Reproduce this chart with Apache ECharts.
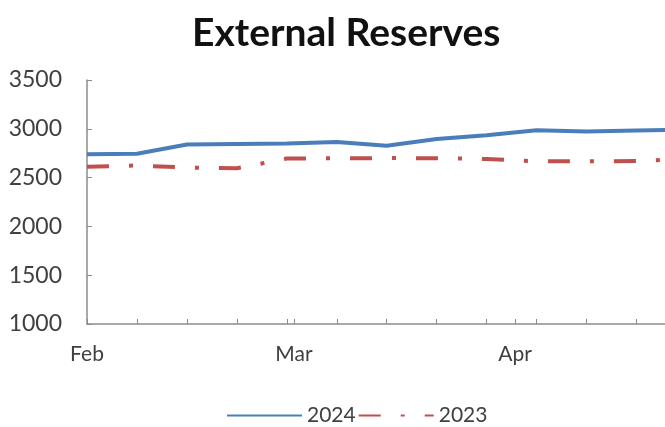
<!DOCTYPE html>
<html>
<head>
<meta charset="utf-8">
<script src="https://cdn.jsdelivr.net/npm/echarts@6/dist/echarts.min.js"></script>
<style>
html,body{margin:0;padding:0;background:#fff;}
#chart{width:665px;height:427px;}
</style>
</head>
<body>
<div id="chart"></div>
<script>
// Weekly observation dates
var dates = ['2024-02-01','2024-02-08','2024-02-15','2024-02-22','2024-02-29','2024-03-07','2024-03-14','2024-03-21','2024-03-28','2024-04-04','2024-04-11','2024-04-18','2024-04-25'];
// Series values
var reserves2024 = [2740, 2745, 2840, 2845, 2850, 2865, 2827, 2895, 2935, 2985, 2972, 2983, 2990];
var reserves2023 = [2612, 2624, 2603, 2595, 2696, 2698, 2700, 2698, 2691, 2667, 2667, 2670, 2690];
// Tick labels
var monthLabels = ['Feb', 'Mar', 'Apr'];
var monthStarts = ['2024-02-01', '2024-03-01', '2024-04-01'];
var weekTicks = ['2024-02-08','2024-02-15','2024-02-22','2024-02-29','2024-03-07','2024-03-14','2024-03-21','2024-03-28','2024-04-04','2024-04-11','2024-04-18'];
var yTicks = [1000, 1500, 2000, 2500, 3000, 3500];

var base = Date.UTC(2024, 1, 1);
function dayOf(s) {
  var p = s.split('-');
  return Math.round((Date.UTC(+p[0], +p[1] - 1, +p[2]) - base) / 86400000);
}
var monthDays = monthStarts.map(dayOf);
var tickDays = weekTicks.map(dayOf).concat(monthDays);

var font = 'Lato, "Liberation Sans", sans-serif';
var chart = echarts.init(document.getElementById('chart'));
chart.setOption({
  animation: false,
  title: {
    text: 'External Reserves',
    left: 187,
    top: 9,
    textStyle: {fontFamily: font, fontWeight: 'bold', fontSize: 39, color: '#111'}
  },
  legend: {
    left: 221,
    top: 400,
    itemWidth: 75,
    itemHeight: 14,
    itemGap: 2,
    itemStyle: {opacity: 0, borderWidth: 0},
    textStyle: {fontFamily: font, fontSize: 21, color: '#404040'},
    data: ['2024', '2023']
  },
  grid: {left: 87, right: 0, top: 80, bottom: 103, containLabel: false},
  xAxis: {
    type: 'value',
    min: 0,
    max: 81,
    axisLine: {show: true, lineStyle: {color: '#8c8c8c', width: 1.5}},
    axisTick: {show: true, inside: true, length: 5, lineStyle: {color: '#8c8c8c'}, customValues: tickDays},
    axisLabel: {
      show: true,
      margin: 20,
      fontFamily: font, fontSize: 21, color: '#404040',
      customValues: monthDays,
      formatter: function (v) {
        var i = monthDays.indexOf(v);
        return i >= 0 ? monthLabels[i] : '';
      }
    },
    splitLine: {show: false}
  },
  yAxis: {
    type: 'value',
    min: yTicks[0],
    max: yTicks[yTicks.length - 1],
    interval: 500,
    axisLine: {show: true, lineStyle: {color: '#8c8c8c', width: 1.5}},
    axisTick: {show: true, inside: true, length: 5, lineStyle: {color: '#8c8c8c'}},
    axisLabel: {margin: 25, fontFamily: font, fontSize: 23, color: '#404040', formatter: function (v) { return String(v); }},
    splitLine: {show: false}
  },
  series: [
    {
      name: '2024',
      type: 'line',
      symbol: 'none',
      clip: true,
      data: dates.map(function (d, i) { return [dayOf(d), reserves2024[i]]; }),
      lineStyle: {color: '#4a7ebb', width: 4},
      itemStyle: {color: '#4a7ebb'}
    },
    {
      name: '2023',
      type: 'line',
      symbol: 'none',
      clip: true,
      data: dates.map(function (d, i) { return [dayOf(d), reserves2023[i]]; }),
      lineStyle: {color: '#c0504d', width: 4, type: [22, 20, 4, 20], cap: 'butt'},
      itemStyle: {color: '#c0504d'}
    }
  ]
});
</script>
</body>
</html>
